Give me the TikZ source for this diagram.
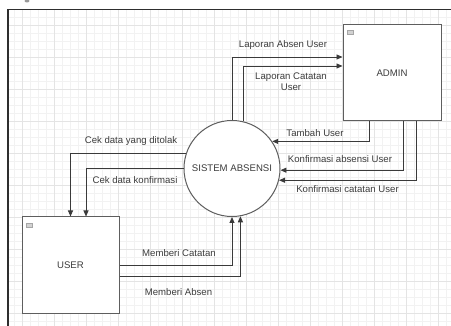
\documentclass[tikz,border=0pt]{standalone}
\usepackage{fontspec}
\setmainfont{Liberation Sans}
\usetikzlibrary{arrows.meta,calc}
\definecolor{gridminor}{HTML}{F2F2F2}
\definecolor{gridmajor}{HTML}{E4E4E4}
\definecolor{linec}{HTML}{3A3A3A}
\definecolor{boxc}{HTML}{5E5E5E}
\definecolor{txtc}{HTML}{3C3C3C}
\definecolor{framec}{HTML}{2E2E2E}
\begin{document}
\begin{tikzpicture}[x=1pt,y=-1pt,
  lbl/.style={font=\fontsize{9.6}{11}\selectfont, text=txtc, inner sep=0pt, align=center},
  entity/.style={draw=boxc, line width=1pt, fill=white, inner sep=0pt,
    font=\fontsize{9.6}{11}\selectfont, text=txtc},
  proc/.style={circle, draw=boxc, line width=1pt, fill=white, minimum size=96pt,
    inner sep=0pt, font=\fontsize{9.6}{11}\selectfont, text=txtc},
  flow/.style={draw=linec, line width=0.9pt, -{Triangle[length=6pt,width=5pt]}},
  icon/.style={draw=gray!70, fill=gray!35, line width=0.4pt}]
\useasboundingbox (0,0) rectangle (451,326);
\fill[white] (0,0) rectangle (451,326);
% grid
\begin{scope}
\clip (8,10) rectangle (451,326);
\foreach \x in {6,14,...,446} \draw[gridminor, line width=0.6pt] (\x,10) -- (\x,326);
\foreach \y in {9,17,...,325} \draw[gridminor, line width=0.6pt] (8,\y) -- (451,\y);
\foreach \x in {22,54,...,438} \draw[gridmajor, line width=0.8pt] (\x,10) -- (\x,326);
\foreach \y in {25,57,...,313} \draw[gridmajor, line width=0.8pt] (8,\y) -- (451,\y);
\end{scope}
% frame
\draw[framec, line width=1.5pt] (8,326) -- (8,9.5) -- (451,9.5);
\fill[gray!80] (27,1) ellipse [x radius=2.5pt, y radius=1.5pt];
% nodes
\node[entity, minimum width=98pt, minimum height=96pt] (admin) at (392,73) {ADMIN};
\node[entity, minimum width=97pt, minimum height=97pt] (user) at (70.5,265.5) {USER};
\node[proc] (sys) at (232,168.5) {SISTEM ABSENSI};
\draw[icon] ([xshift=5pt,yshift=-6pt]admin.north west) rectangle ([xshift=11pt,yshift=-10pt]admin.north west);
\draw[icon] ([xshift=5pt,yshift=-7pt]user.north west) rectangle ([xshift=11pt,yshift=-11pt]user.north west);
% connectors
\draw[flow] (sys.90) |- ([yshift=16pt]admin.west);
\draw[flow] (sys.76) |- ([yshift=7pt]admin.west);
\draw[flow] ([xshift=-23pt]admin.south) |- (sys.34);
\draw[flow] ([xshift=11pt]admin.south) |- (sys.-2);
\draw[flow] ([xshift=24.7pt]admin.south) |- (sys.-14.5);
\draw[flow] (sys.162) -| (user.north);
\draw[flow] (sys.west) -| ([xshift=15.5pt]user.north);
\draw[flow] (user.east) -| (sys.south);
\draw[flow] ([yshift=-10.5pt]user.east) -| (sys.-80);
% labels
\node[lbl] (l1) at (283,45) {Laporan Absen User};
\node[lbl] (l2) at (291,81.5) {Laporan Catatan\\User};
\node[lbl] (l3) at (315,133) {Tambah User};
\node[lbl] (l4) at (340,159) {Konfirmasi absensi User};
\node[lbl] (l5) at (347.5,188.7) {Konfirmasi catatan User};
\node[lbl] (l6) at (131,141.5) {Cek data yang ditolak};
\node[lbl] (l7) at (135,180.3) {Cek data konfirmasi};
\node[lbl] (l8) at (179,253) {Memberi Catatan};
\node[lbl] (l9) at (178.5,292.3) {Memberi Absen};
\end{tikzpicture}
\end{document}
